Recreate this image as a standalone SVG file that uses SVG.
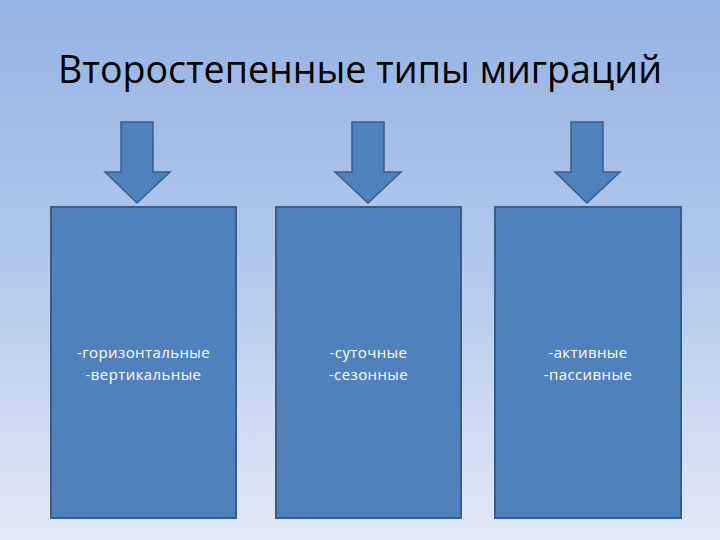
<svg xmlns="http://www.w3.org/2000/svg" width="720" height="540" viewBox="0 0 720 540">
<defs>
<linearGradient id="bg" x1="0" y1="0" x2="0" y2="1">
<stop offset="0" stop-color="#95b3e3"/>
<stop offset="0.5" stop-color="#b4c8ec"/>
<stop offset="1" stop-color="#e2e9f6"/>
</linearGradient>
<style>
.box{fill:#4f81bd;stroke:#385d8a;stroke-width:2}
.arrow{fill:#4f81bd;stroke:#385d8a;stroke-width:1.5;stroke-linejoin:miter}
.lbl{font-family:"Open Sans","Liberation Sans",sans-serif;font-size:15px;letter-spacing:0.4px;fill:#ffffff;text-anchor:middle}
.title{font-family:"Open Sans","Liberation Sans",sans-serif;font-size:38px;fill:#000000;text-anchor:middle}
</style>
</defs>
<rect x="0" y="0" width="720" height="540" fill="url(#bg)"/>
<text class="title" x="360" y="83" textLength="604" lengthAdjust="spacingAndGlyphs">Второстепенные типы миграций</text>
<g id="connectors">
<path class="arrow" d="M121,122 H153 V172 H170 L137,203 L105,172 H121 Z"/>
<path class="arrow" d="M352,122 H384 V172 H401 L368,203 L335,172 H352 Z"/>
<path class="arrow" d="M571,122 H603 V172 H620 L587,203 L555,172 H571 Z"/>
</g>
<g id="node1">
<rect class="box" x="51" y="207" width="185" height="311"/>
<text class="lbl" x="143.5" y="358">-горизонтальные</text>
<text class="lbl" x="143.5" y="380">-вертикальные</text>
</g>
<g id="node2">
<rect class="box" x="276" y="207" width="185" height="311"/>
<text class="lbl" x="368.5" y="358">-суточные</text>
<text class="lbl" x="368.5" y="380">-сезонные</text>
</g>
<g id="node3">
<rect class="box" x="495" y="207" width="186" height="311"/>
<text class="lbl" x="588" y="358">-активные</text>
<text class="lbl" x="588" y="380">-пассивные</text>
</g>
</svg>
